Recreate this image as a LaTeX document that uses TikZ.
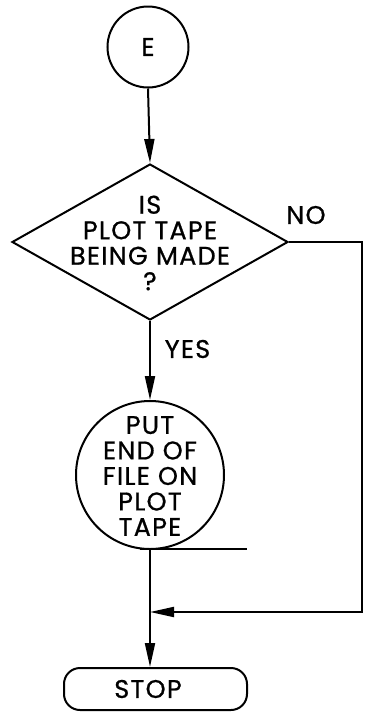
\documentclass[tikz,border=0pt]{standalone}
\usepackage{fontspec}
\setmainfont{Poppins}[LetterSpace=5,FakeBold=0.8]
\usetikzlibrary{shapes.geometric,arrows.meta}
\begin{document}
\begin{tikzpicture}[x=1pt,y=-1pt,
  every node/.style={font=\fontsize{25.5}{25.5}\selectfont, inner sep=0pt},
  box/.style={draw,line width=2pt},
  conn/.style={line width=2pt},
  arr/.style={conn,-{Triangle[length=24pt,width=10pt]}}]
\useasboundingbox (0,0) rectangle (365,713);
% symbols
\node[box,circle,minimum size=81pt] (e) at (148,47) {E};
\node[box,diamond,minimum width=276pt,minimum height=156pt] (d) at (150,242) {};
\node[align=center] (dq) at (150,243) {IS\\PLOT TAPE\\BEING MADE\\?};
\node[box,circle,minimum size=148pt] (put) at (150,475) {};
\node[align=center] (putt) at (150,476) {PUT\\END OF\\FILE ON\\PLOT\\TAPE};
\node[box,rounded corners=16pt,minimum width=183pt,minimum height=42pt] (stop) at (155.5,689) {};
\node (stopt) at (148,689) {STOP};
% branch labels
\node (no) at (306,215) {NO};
\node (yes) at (187.5,349) {YES};
% route points
\coordinate (nr) at (362,242);
\coordinate (nb) at (362,612);
\coordinate (j) at (150,612);
\coordinate (sa) at (140,549);
\coordinate (sb) at (247,549);
% connectors
\draw[arr] (e.south) -- (d.north);
\draw[arr] (d.south) -- (put.north);
\draw[arr] (d.east) -- (nr) -- (nb) -- (j);
\draw[arr] (put.south) -- (put.south |- stop.north);
\draw[conn] (sa) -- (sb);
\end{tikzpicture}
\end{document}
